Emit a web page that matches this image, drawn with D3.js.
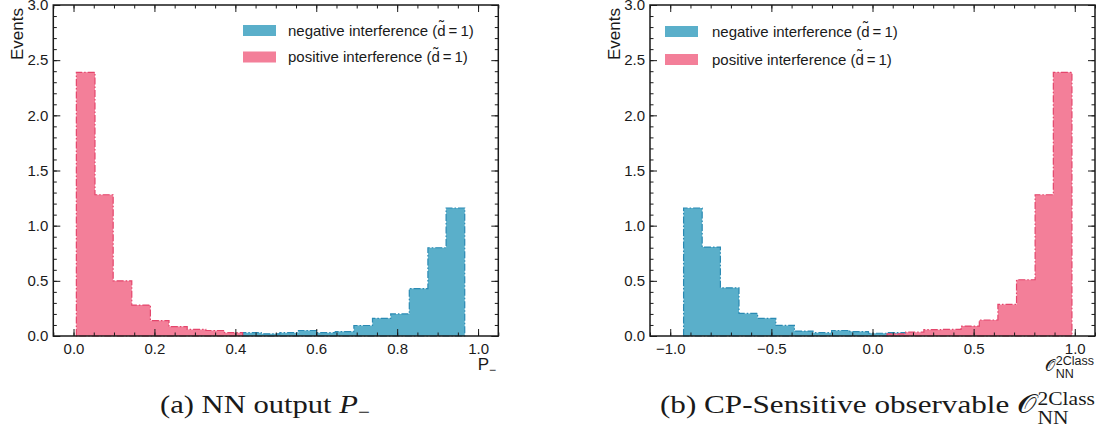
<!DOCTYPE html>
<html>
<head>
<meta charset="utf-8">
<script src="https://cdn.jsdelivr.net/npm/d3@7/dist/d3.min.js"></script>
<style>
  html, body { margin: 0; padding: 0; background: #fff; }
  svg { display: block; }
  .tick text { font-family: "Liberation Sans", Arial, sans-serif; font-size: 15px; fill: #1a1a1a; }
</style>
</head>
<body>
<svg id="chart" width="1103" height="440"></svg>
<script>
// ---- data -------------------------------------------------------------
// (a) NN output P−: bin edges and per-bin heights
const binEdgesA = [0.007, 0.053, 0.098, 0.144, 0.190, 0.236, 0.281, 0.327, 0.373, 0.418, 0.464,
                   0.510, 0.556, 0.601, 0.647, 0.693, 0.739, 0.784, 0.830, 0.876, 0.921, 0.967];
const negA = [0, 0, 0, 0, 0, 0, 0, 0, 0, 0.03, 0.02,
              0.03, 0.05, 0.03, 0.04, 0.095, 0.16, 0.20, 0.43, 0.80, 1.16];
const posA = [2.39, 1.28, 0.50, 0.28, 0.14, 0.085, 0.06, 0.05, 0.03, 0, 0,
              0, 0, 0, 0, 0, 0, 0, 0, 0, 0];

// (b) CP-sensitive observable: bin edges and per-bin heights
const binEdgesB = [-0.934, -0.842, -0.752, -0.660, -0.568, -0.478, -0.386, -0.294, -0.202, -0.112, -0.020,
                   0.072, 0.164, 0.254, 0.346, 0.438, 0.528, 0.620, 0.712, 0.804, 0.894, 0.986];
const negB = [1.16, 0.806, 0.437, 0.205, 0.16, 0.096, 0.045, 0.03, 0.05, 0.04, 0.025,
              0.03, 0, 0, 0, 0, 0, 0, 0, 0, 0];
const posB = [0, 0, 0, 0, 0, 0, 0, 0, 0, 0, 0,
              0.02, 0.035, 0.057, 0.06, 0.09, 0.145, 0.286, 0.51, 1.28, 2.39];

// tick labels
const yTicks = [0, 0.5, 1.0, 1.5, 2.0, 2.5, 3.0];
const xTicksA = [0, 0.2, 0.4, 0.6, 0.8, 1.0];
const xTicksB = [-1.0, -0.5, 0, 0.5, 1.0];

const legendNames = ["negative interference", "positive interference"];

// ---- styling ------------------------------------------------------------
const COLORS = {
  neg: { fill: "#5aafca", edge: "#2a8ab3" },
  pos: { fill: "#f37f99", edge: "#e4466c" }
};
const SANS = '"Liberation Sans", Arial, sans-serif';
const SERIF = '"Liberation Serif", "Times New Roman", serif';
const INK = "#1a1a1a";

const svg = d3.select("#chart");

const panels = [
  {
    left: 53.3, right: 498.3, top: 5, bottom: 336,
    xDomain: [-0.05, 1.05], xTicks: xTicksA, xMinorStep: 0.05,
    edges: binEdgesA, neg: negA, pos: posA,
    legend: { x: 243, y: [30.5, 57], textX: 288 }
  },
  {
    left: 650, right: 1095, top: 5, bottom: 336,
    xDomain: [-1.1, 1.1], xTicks: xTicksB, xMinorStep: 0.1,
    edges: binEdgesB, neg: negB, pos: posB,
    legend: { x: 665, y: [31.5, 59.5], textX: 712 }
  }
];

function histPath(edges, vals, x, y) {
  // trim leading/trailing empty bins
  const i0 = vals.findIndex(v => v > 0);
  let i1 = vals.length - 1;
  while (i1 > 0 && vals[i1] <= 0) i1--;
  const pts = [[edges[i0], 0]];
  for (let i = i0; i <= i1; i++) {
    pts.push([edges[i], vals[i]]);
    pts.push([edges[i + 1], vals[i]]);
  }
  pts.push([edges[i1 + 1], 0]);
  return d3.line().x(d => x(d[0])).y(d => y(d[1]))(pts) + "Z";
}

// legend entry text: "<name> (d̃ = 1)" with the tilde set above the d
function legendText(sel, name) {
  sel.append("tspan").text(name + " (d");
  sel.append("tspan").attr("dx", -6.6).attr("dy", -4.5).text("\u02dc");
  sel.append("tspan").attr("dx", 1.6).attr("dy", 4.5).text("\u2009=\u20091)");
}

panels.forEach(p => {
  const x = d3.scaleLinear().domain(p.xDomain).range([p.left, p.right]);
  const y = d3.scaleLinear().domain([0, 3]).range([p.bottom, p.top]);
  const g = svg.append("g");

  // histograms (filled, dash-dot outline)
  [["neg", p.neg], ["pos", p.pos]].forEach(([key, vals]) => {
    g.append("path")
      .attr("d", histPath(p.edges, vals, x, y))
      .attr("fill", COLORS[key].fill)
      .attr("stroke", COLORS[key].edge)
      .attr("stroke-width", 1.2)
      .attr("stroke-dasharray", "7,2,1.5,2");
  });

  // minor tick positions
  const xMinor = d3.range(Math.ceil(p.xDomain[0] / p.xMinorStep - 1e-9), Math.floor(p.xDomain[1] / p.xMinorStep + 1e-9) + 1)
    .map(k => +(k * p.xMinorStep).toFixed(4));
  const yMinor = d3.range(0, 31).map(k => k / 10);

  const axisStyle = sel => {
    sel.select(".domain").remove();
    sel.selectAll(".tick line").attr("stroke", INK).attr("stroke-width", 1);
  };

  // bottom
  g.append("g").attr("transform", `translate(0,${p.bottom})`)
    .call(d3.axisBottom(x).tickValues(xMinor).tickSize(-3.5).tickFormat(""))
    .call(axisStyle);
  g.append("g").attr("transform", `translate(0,${p.bottom})`)
    .call(d3.axisBottom(x).tickValues(p.xTicks).tickSize(-7).tickPadding(7).tickFormat(d3.format(".1f")))
    .call(axisStyle);
  // top
  g.append("g").attr("transform", `translate(0,${p.top})`)
    .call(d3.axisTop(x).tickValues(xMinor).tickSize(-3.5).tickFormat(""))
    .call(axisStyle);
  g.append("g").attr("transform", `translate(0,${p.top})`)
    .call(d3.axisTop(x).tickValues(p.xTicks).tickSize(-7).tickFormat(""))
    .call(axisStyle);
  // left
  g.append("g").attr("transform", `translate(${p.left},0)`)
    .call(d3.axisLeft(y).tickValues(yMinor).tickSize(-3.5).tickFormat(""))
    .call(axisStyle);
  g.append("g").attr("transform", `translate(${p.left},0)`)
    .call(d3.axisLeft(y).tickValues(yTicks).tickSize(-7).tickPadding(5).tickFormat(d3.format(".1f")))
    .call(axisStyle);
  // right
  g.append("g").attr("transform", `translate(${p.right},0)`)
    .call(d3.axisRight(y).tickValues(yMinor).tickSize(-3.5).tickFormat(""))
    .call(axisStyle);
  g.append("g").attr("transform", `translate(${p.right},0)`)
    .call(d3.axisRight(y).tickValues(yTicks).tickSize(-7).tickFormat(""))
    .call(axisStyle);

  // frame
  g.append("rect")
    .attr("x", p.left).attr("y", p.top)
    .attr("width", p.right - p.left).attr("height", p.bottom - p.top)
    .attr("fill", "none").attr("stroke", INK).attr("stroke-width", 1.5);

  // y label
  g.append("text")
    .attr("transform", `translate(${p.left - 30},${p.top + 3}) rotate(-90)`)
    .attr("text-anchor", "end")
    .attr("font-family", SANS).attr("font-size", 17).attr("fill", INK)
    .text("Events");

  // legend
  ["neg", "pos"].forEach((key, i) => {
    g.append("rect")
      .attr("x", p.legend.x).attr("y", p.legend.y[i] - 5.5)
      .attr("width", 33).attr("height", 11)
      .attr("fill", COLORS[key].fill);
    g.append("text")
      .attr("x", p.legend.textX).attr("y", p.legend.y[i] + 5)
      .attr("font-family", SANS).attr("font-size", 15).attr("fill", INK)
      .call(legendText, legendNames[i]);
  });
});

// symbol with stacked superscript and subscript, drawn into `parent`
function scripted(parent, x, yBase, base, sup, sub, o) {
  const gl = parent.append("g");
  const b = gl.append("text").attr("x", x).attr("y", yBase)
    .attr("font-family", o.baseFont).attr("font-size", o.size).attr("fill", INK).text(base);
  const bw = b.node().getComputedTextLength();
  const sx = x + bw + o.gap;
  const s1 = gl.append("text").attr("x", sx).attr("y", yBase - o.supUp)
    .attr("font-family", o.font).attr("font-size", o.small).attr("fill", INK).text(sup);
  const s2 = gl.append("text").attr("x", sx).attr("y", yBase + o.subDown)
    .attr("font-family", o.font).attr("font-size", o.small).attr("fill", INK).text(sub);
  const sw = Math.max(s1.node().getComputedTextLength(), s2.node().getComputedTextLength());
  return { g: gl, width: bw + o.gap + sw };
}

// x label (a): P−
{
  const t = svg.append("text")
    .attr("x", 496).attr("y", 370)
    .attr("text-anchor", "end")
    .attr("font-family", SANS).attr("font-size", 17).attr("fill", INK);
  t.append("tspan").text("P");
  t.append("tspan").attr("font-size", 12).attr("dy", 4).text("\u2212");
}

// x label (b): O_NN^2Class, right-aligned to the frame
{
  const lab = scripted(svg, 0, 371, "\u{1D4AA}", "2Class", "NN",
    { baseFont: '"DejaVu Serif", serif', size: 16, font: SANS, small: 12.5, supUp: 6, subDown: 6.5, gap: 0.5 });
  lab.g.attr("transform", `translate(${1094 - lab.width},0)`);
}

// captions: set in serif, then fitted to their horizontal extent
function fitCaption(group, x0, x1) {
  const bb = group.node().getBBox();
  const s = (x1 - x0) / bb.width;
  group.attr("transform", `translate(${x0},0) scale(${s},1) translate(${-bb.x},0)`);
}
{
  const cg = svg.append("g");
  const t = cg.append("text")
    .attr("x", 0).attr("y", 413)
    .attr("font-family", SERIF).attr("font-size", 26).attr("fill", INK);
  t.append("tspan").text("(a) NN output ");
  t.append("tspan").attr("font-style", "italic").text("P");
  t.append("tspan").attr("font-size", 18).attr("dy", 5).text("\u2212");
  fitCaption(cg, 160, 370);
}
{
  const cg = svg.append("g");
  const t = cg.append("text")
    .attr("x", 0).attr("y", 413)
    .attr("font-family", SERIF).attr("font-size", 26).attr("fill", INK)
    .text("(b) CP-Sensitive observable\u00a0");
  const w = t.node().getComputedTextLength();
  scripted(cg, w, 413, "\u{1D4AA}", "2Class", "NN",
    { baseFont: SERIF, size: 26, font: SERIF, small: 18, supUp: 8, subDown: 11, gap: 1 });
  fitCaption(cg, 660, 1095);
}
</script>
</body>
</html>
